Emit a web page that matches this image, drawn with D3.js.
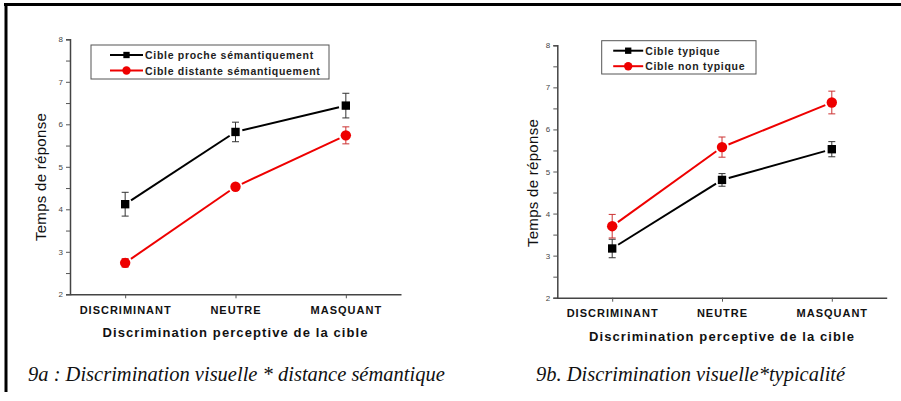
<!DOCTYPE html>
<html>
<head>
<meta charset="utf-8">
<script src="https://cdn.jsdelivr.net/npm/d3@7"></script>
<style>
  body { margin: 0; background: #fff; }
  svg { display: block; }
</style>
</head>
<body>
<div id="chart"></div>
<script>
// categories shared by both panels
const categories = ["DISCRIMINANT", "NEUTRE", "MASQUANT"];

// 9a
const procheMean = [4.12, 5.82, 6.44];
const procheErr = [0.28, 0.23, 0.29];
const distanteMean = [2.74, 4.53, 5.74];
const distanteErr = [0.10, 0.07, 0.20];

// 9b
const typiqueMean = [3.17, 4.80, 5.53];
const typiqueErr = [0.22, 0.15, 0.18];
const nonTypiqueMean = [3.70, 5.58, 6.64];
const nonTypiqueErr = [0.28, 0.24, 0.27];

const width = 901, height = 401;

const svg = d3.select("#chart").append("svg")
    .attr("width", width)
    .attr("height", height);

svg.append("rect").attr("width", width).attr("height", height).attr("fill", "#fff");

// frame: thick top and left rule
svg.append("line").attr("x1", 4).attr("x2", width).attr("y1", 4.5).attr("y2", 4.5)
    .attr("stroke", "#000").attr("stroke-width", 3);
svg.append("line").attr("x1", 6).attr("x2", 6).attr("y1", 3).attr("y2", 392)
    .attr("stroke", "#000").attr("stroke-width", 3);

function panel(opt) {
    const g = svg.append("g");

    const x = d3.scalePoint().domain(categories).range([opt.x0, opt.x1]).padding(0.5);
    const y = d3.scaleLinear().domain([2, 8]).range([opt.y1, opt.y0]);

    // y axis, minor ticks every half unit
    const yAxis = d3.axisLeft(y).tickValues(d3.range(2, 8.01, 0.5)).tickSize(4).tickPadding(3)
        .tickFormat(d => Number.isInteger(d) ? d : "");
    const ya = g.append("g").attr("transform", `translate(${opt.x0},0)`).call(yAxis);
    ya.select(".domain").attr("stroke", "#444").attr("stroke-width", 1.5);
    ya.selectAll(".tick line").attr("stroke", "#555").attr("stroke-width", 1);
    ya.selectAll(".tick text").attr("fill", "#444").style("font-family", "Liberation Sans, Arial, sans-serif")
        .style("font-size", "8px");

    // x axis
    const xAxis = d3.axisBottom(x).tickSize(4).tickSizeOuter(0).tickPadding(8);
    const xa = g.append("g").attr("transform", `translate(0,${opt.y1})`).call(xAxis);
    xa.select(".domain").attr("stroke", "#444").attr("stroke-width", 1.5);
    xa.selectAll(".tick line").attr("stroke", "#555").attr("stroke-width", 1);
    xa.selectAll(".tick text").attr("fill", "#111")
        .style("font-family", "Liberation Sans, Arial, sans-serif")
        .style("font-size", "11px").style("font-weight", "bold").style("letter-spacing", "1px");

    // axis titles
    g.append("text")
        .attr("transform", `translate(${opt.ytx},${opt.yty}) rotate(-90)`)
        .attr("text-anchor", "middle")
        .style("font-family", "Liberation Sans, Arial, sans-serif")
        .style("font-size", "15px").style("letter-spacing", "0.3px")
        .attr("fill", "#111")
        .text("Temps de réponse");

    g.append("text")
        .attr("x", (opt.x0 + opt.x1) / 2)
        .attr("y", opt.y1 + 43)
        .attr("text-anchor", "middle")
        .style("font-family", "Liberation Sans, Arial, sans-serif")
        .style("font-size", "13px").style("font-weight", "bold").style("letter-spacing", "1.1px")
        .attr("fill", "#111")
        .text("Discrimination perceptive de la cible");

    // series
    opt.series.forEach(s => {
        const pts = categories.map((c, i) => ({ x: x(c), y: y(s.mean[i]), lo: y(s.mean[i] - s.err[i]), hi: y(s.mean[i] + s.err[i]) }));

        // line segments, leaving a small gap around markers
        const gap = 7;
        for (let i = 0; i < pts.length - 1; i++) {
            const a = pts[i], b = pts[i + 1];
            const dx = b.x - a.x, dy = b.y - a.y, len = Math.hypot(dx, dy);
            g.append("line")
                .attr("x1", a.x + dx / len * gap).attr("y1", a.y + dy / len * gap)
                .attr("x2", b.x - dx / len * gap).attr("y2", b.y - dy / len * gap)
                .attr("stroke", s.color).attr("stroke-width", 2);
        }

        // error bars
        const eb = g.append("g").selectAll("g").data(pts).enter().append("g");
        eb.append("line").attr("x1", d => d.x).attr("x2", d => d.x).attr("y1", d => d.lo).attr("y2", d => d.hi)
            .attr("stroke", s.errColor).attr("stroke-width", 1);
        eb.append("line").attr("x1", d => d.x - 3.5).attr("x2", d => d.x + 3.5).attr("y1", d => d.lo).attr("y2", d => d.lo)
            .attr("stroke", s.errColor).attr("stroke-width", 1);
        eb.append("line").attr("x1", d => d.x - 3.5).attr("x2", d => d.x + 3.5).attr("y1", d => d.hi).attr("y2", d => d.hi)
            .attr("stroke", s.errColor).attr("stroke-width", 1);

        // markers
        const sym = d3.symbol().type(s.shape === "square" ? d3.symbolSquare : d3.symbolCircle).size(s.shape === "square" ? 70 : 85);
        g.append("g").selectAll("path").data(pts).enter().append("path")
            .attr("transform", d => `translate(${d.x},${d.y})`)
            .attr("d", sym)
            .attr("fill", s.color);
    });

    // legend
    const lg = g.append("g");
    lg.append("rect")
        .attr("x", opt.legend.x).attr("y", opt.legend.y)
        .attr("width", opt.legend.w).attr("height", opt.legend.h)
        .attr("fill", "#fff").attr("stroke", "#555").attr("stroke-width", 1);
    opt.series.forEach((s, i) => {
        const ly = opt.legend.y + 10 + i * 15.5;
        const lx = opt.legend.x + opt.legend.lx;
        lg.append("line").attr("x1", lx).attr("x2", lx + opt.legend.ll).attr("y1", ly).attr("y2", ly)
            .attr("stroke", s.color).attr("stroke-width", 2);
        const sym = d3.symbol().type(s.shape === "square" ? d3.symbolSquare : d3.symbolCircle).size(s.shape === "square" ? 40 : 55);
        lg.append("path").attr("transform", `translate(${lx + opt.legend.ll / 2},${ly})`).attr("d", sym).attr("fill", s.color);
        lg.append("text")
            .attr("x", lx + opt.legend.ll + 2).attr("y", ly + 4)
            .style("font-family", "Liberation Sans, Arial, sans-serif")
            .style("font-size", "10.5px").style("font-weight", "bold").style("letter-spacing", "0.7px")
            .attr("fill", "#222")
            .text(s.name);
    });

    // caption
    g.append("text")
        .attr("x", opt.cx).attr("y", 381)
        .style("font-family", "Liberation Serif, 'Times New Roman', serif")
        .style("font-style", "italic")
        .style("font-size", "20.5px")
        .attr("fill", "#111")
        .text(opt.caption);
}

panel({
    x0: 70, x1: 401, y0: 39.3, y1: 294.3,
    ytx: 46, yty: 177,
    legend: { x: 91, y: 45, w: 238, h: 34, lx: 19, ll: 33 },
    cx: 28,
    caption: "9a : Discrimination visuelle * distance sémantique",
    series: [
        { name: "Cible proche sémantiquement", mean: procheMean, err: procheErr, color: "#000", errColor: "#333", shape: "square" },
        { name: "Cible distante sémantiquement", mean: distanteMean, err: distanteErr, color: "#e00", errColor: "#c33", shape: "circle" }
    ]
});

panel({
    x0: 557.3, x1: 886.7, y0: 45.3, y1: 297.7,
    ytx: 538, yty: 183,
    legend: { x: 601.7, y: 40.7, w: 154.3, h: 33.3, lx: 11.5, ll: 30 },
    cx: 536,
    caption: "9b. Discrimination visuelle*typicalité",
    series: [
        { name: "Cible typique", mean: typiqueMean, err: typiqueErr, color: "#000", errColor: "#333", shape: "square" },
        { name: "Cible non typique", mean: nonTypiqueMean, err: nonTypiqueErr, color: "#e00", errColor: "#c33", shape: "circle" }
    ]
});
</script>
</body>
</html>
